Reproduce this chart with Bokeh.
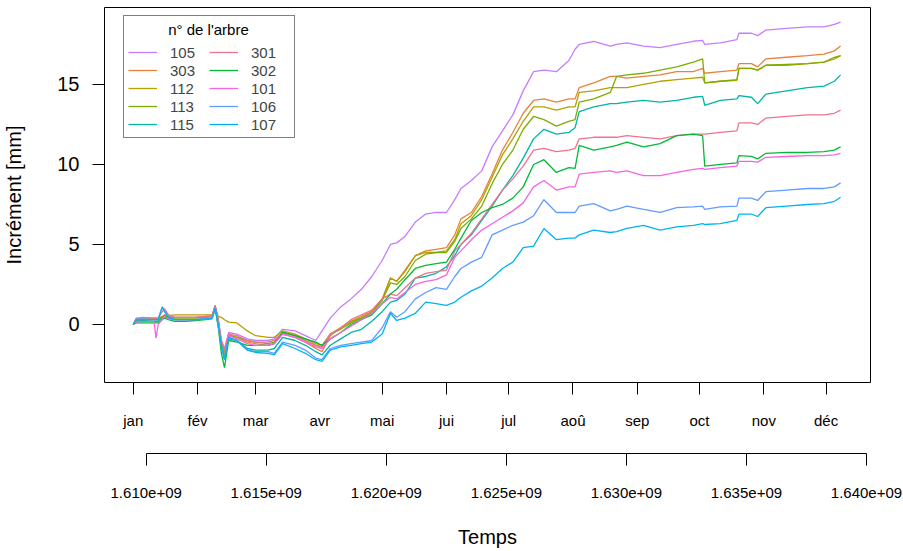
import pandas as pd
from bokeh.plotting import figure
from bokeh.models import Range1d, LinearAxis, FixedTicker, Legend, LegendItem, Label
from bokeh.embed import file_html
from bokeh.resources import INLINE

# ---------------- data ----------------
# day of year 2021 (0 = 1 January)
days = [0, 1.5, 5, 10, 11, 12, 14, 15, 17, 20, 25, 30, 35, 38, 39.5, 41, 42.5, 44, 46, 50,
        55, 59, 65, 68, 72, 78, 83, 88, 91,
        95, 100, 105, 110, 115, 120, 124, 127, 131, 136, 141, 146, 151, 155, 158, 163, 168,
        173, 178, 183, 188, 193, 198, 204, 210, 213, 215, 222, 230, 233, 238, 246, 254, 262,
        270, 274.5, 275.5, 283, 291, 292, 298, 301, 305, 315, 325, 333, 338, 341]

trees = ["105", "303", "112", "113", "115", "301", "302", "101", "106", "107"]
colors = ["#C77CFF", "#E6823C", "#B79F00", "#7CAE00", "#00B5A5",
          "#F0728C", "#00BA38", "#F564E3", "#619CFF", "#00B4F0"]

inc_105 = [0, 0.3, 0.3, 0.35, 0.35, 0.35, 0.5, 0.6, 0.5, 0.45, 0.45, 0.45, 0.5, 0.5, 1.1, 0.2, -1.0, -1.6, -0.5, -0.6,
           -0.9, -1.0, -1.0, -0.9, -0.3, -0.4, -0.7, -1.0, -0.4,
           0.4, 1.1, 1.6, 2.2, 3.0, 4.0, 5.0, 5.1, 5.5, 6.4, 6.9, 7.0, 7.0, 7.8, 8.5, 9.0, 9.6,
           11.1, 12.1, 13.1, 14.6, 15.8, 15.9, 15.8, 16.5, 17.2, 17.5, 17.7, 17.4, 17.5, 17.6, 17.4, 17.3, 17.5,
           17.7, 17.75, 17.5, 17.6, 17.8, 18.2, 18.2, 18.05, 18.4, 18.5, 18.6, 18.6, 18.75, 18.9]
inc_303 = [0, 0.25, 0.3, 0.3, 0.3, 0.3, 0.45, 0.6, 0.5, 0.45, 0.45, 0.45, 0.5, 0.55, 1.2, 0.3, -1.1, -1.7, -0.6, -0.8,
           -1.1, -1.2, -1.3, -1.2, -0.6, -0.8, -1.1, -1.5, -1.7,
           -0.7, -0.2, 0.2, 0.4, 0.8, 1.6, 2.9, 2.7, 3.4, 4.3, 4.6, 4.7, 4.8, 5.6, 6.6, 7.0, 8.0,
           9.4, 10.9, 12.0, 13.2, 14.0, 14.1, 13.9, 14.1, 14.1, 14.8, 15.1, 15.5, 15.5, 15.4, 15.5, 15.6, 15.8,
           15.8, 16.0, 15.7, 15.8, 15.9, 16.3, 16.3, 16.1, 16.6, 16.7, 16.8, 16.9, 17.1, 17.4]
inc_112 = [0, 0.35, 0.4, 0.4, 0.4, 0.4, 0.5, 0.55, 0.55, 0.6, 0.6, 0.6, 0.6, 0.6, 1.0, 0.5, 0.45, 0.3, 0.15, 0.1,
           -0.4, -0.7, -0.8, -0.8, -0.4, -0.6, -0.9, -1.2, -1.3,
           -0.6, -0.2, 0.2, 0.5, 0.8, 1.5, 2.9, 2.7, 3.3, 4.3, 4.5, 4.5, 4.6, 5.3, 6.3, 6.8, 7.8,
           9.2, 10.6, 11.6, 12.7, 13.6, 13.6, 13.4, 13.6, 13.6, 14.5, 14.6, 14.8, 14.8, 14.8, 15.0, 15.2, 15.3,
           15.4, 15.45, 15.1, 15.2, 15.25, 16.0, 16.0, 15.9, 16.2, 16.2, 16.3, 16.4, 16.6, 16.8]
inc_113 = [0, 0.3, 0.3, 0.3, 0.3, 0.3, 0.4, 0.55, 0.45, 0.4, 0.4, 0.4, 0.45, 0.5, 1.1, 0.2, -1.2, -1.9, -0.7, -0.8,
           -1.0, -1.1, -1.2, -1.1, -0.5, -0.7, -1.0, -1.3, -1.4,
           -0.6, -0.3, 0.1, 0.4, 0.7, 1.5, 2.6, 2.5, 3.0, 4.0, 4.4, 4.5, 4.5, 5.2, 6.0, 6.6, 7.4,
           8.8, 10.0, 10.9, 12.2, 13.0, 12.8, 12.4, 12.7, 12.8, 13.9, 14.1, 14.5, 15.5, 15.6, 15.7, 15.9, 16.1,
           16.4, 16.6, 15.1, 15.2, 15.3, 16.0, 16.0, 15.9, 16.2, 16.25, 16.3, 16.4, 16.7, 16.8]
inc_115 = [0, 0.2, 0.25, 0.2, 0.2, 0.2, 0.4, 0.5, 0.4, 0.3, 0.3, 0.3, 0.35, 0.4, 1.0, 0.0, -1.4, -2.2, -0.9, -1.0,
           -1.5, -1.6, -1.6, -1.5, -0.8, -1.0, -1.3, -1.7, -1.9,
           -1.3, -0.9, -0.5, -0.3, 0.2, 0.8, 1.4, 1.5, 1.9, 2.9, 3.0, 3.2, 3.6, 4.3, 5.0, 5.6, 6.5,
           7.4, 8.4, 9.3, 10.4, 11.6, 12.2, 11.9, 12.0, 12.3, 13.3, 13.6, 13.8, 13.8, 13.9, 14.0, 13.9, 14.0,
           14.2, 14.25, 13.7, 14.0, 14.1, 14.3, 14.2, 13.8, 14.4, 14.6, 14.8, 14.9, 15.2, 15.6]
inc_301 = [0, 0.4, 0.45, 0.4, 0.4, 0.4, 0.8, 1.0, 0.6, 0.45, 0.45, 0.45, 0.5, 0.5, 1.2, 0.3, -1.0, -1.5, -0.6, -0.7,
           -1.0, -1.1, -1.1, -1.0, -0.5, -0.7, -1.0, -1.3, -1.4,
           -0.6, -0.2, 0.3, 0.6, 0.9, 1.6, 1.9, 1.8, 2.3, 2.9, 3.2, 3.3, 3.4, 4.6, 5.0, 5.7, 6.6,
           7.5, 8.4, 9.1, 9.9, 10.9, 11.0, 10.8, 10.9, 11.0, 11.6, 11.7, 11.7, 11.7, 11.8, 11.7, 11.6, 11.8,
           11.9, 11.9, 11.9, 12.0, 12.1, 12.6, 12.6, 12.5, 12.9, 13.0, 13.1, 13.1, 13.2, 13.4]
inc_302 = [0, 0.1, 0.1, 0.1, 0.1, 0.1, 0.3, 0.4, 0.3, 0.2, 0.2, 0.25, 0.3, 0.35, 1.0, -0.2, -1.8, -2.7, -1.0, -1.1,
           -1.3, -1.3, -1.3, -1.2, -0.5, -0.7, -0.9, -1.1, -1.3,
           -0.9, -0.5, 0.0, 0.3, 0.6, 1.3, 1.9, 2.2, 2.8, 3.5, 3.7, 3.8, 3.9, 4.7, 5.4, 6.5, 7.0,
           7.3, 7.5, 7.9, 8.6, 10.0, 10.3, 9.5, 9.8, 9.75, 11.2, 10.9, 11.1, 11.2, 11.4, 11.1, 11.3, 11.8,
           11.9, 11.8, 9.9, 10.0, 10.1, 10.55, 10.5, 10.35, 10.7, 10.75, 10.75, 10.8, 10.9, 11.1]
inc_101 = [0, 0.15, 0.2, 0.2, -0.85, 0.0, 0.3, 0.5, 0.35, 0.3, 0.3, 0.3, 0.35, 0.4, 1.0, 0.0, -1.3, -2.0, -0.7, -0.9,
           -1.2, -1.3, -1.3, -1.2, -0.6, -0.8, -1.1, -1.4, -1.5,
           -0.9, -0.5, -0.1, 0.3, 0.7, 1.3, 1.7, 1.6, 2.0, 2.5, 2.7, 2.8, 3.1, 4.2, 4.6, 5.3, 5.9,
           6.3, 6.7, 7.1, 7.6, 8.6, 9.0, 8.4, 8.6, 8.6, 9.4, 9.5, 9.6, 9.5, 9.6, 9.3, 9.3, 9.5,
           9.7, 9.75, 9.7, 9.8, 9.9, 10.2, 10.2, 10.15, 10.45, 10.5, 10.55, 10.55, 10.6, 10.7]
inc_106 = [0, 0.35, 0.35, 0.3, 0.3, 0.3, 1.1, 0.9, 0.5, 0.3, 0.3, 0.3, 0.35, 0.4, 1.1, 0.0, -1.3, -2.1, -0.8, -1.0,
           -1.6, -1.7, -1.7, -1.8, -1.1, -1.3, -1.6, -2.1, -2.2,
           -1.5, -1.3, -1.2, -1.1, -1.0, -0.2, 0.8, 0.45, 0.8, 1.6, 2.0, 2.3, 2.2, 3.0, 3.5, 3.9, 4.2,
           5.6, 5.9, 6.2, 6.4, 6.8, 7.8, 7.0, 7.0, 7.0, 7.4, 7.55, 7.1, 7.2, 7.4, 7.2, 7.0, 7.3,
           7.35, 7.4, 7.2, 7.35, 7.4, 7.9, 7.9, 7.75, 8.3, 8.4, 8.5, 8.5, 8.6, 8.85]
inc_107 = [0, 0.3, 0.3, 0.3, 0.3, 0.3, 1.1, 0.8, 0.45, 0.3, 0.3, 0.3, 0.35, 0.4, 1.0, 0.0, -1.3, -2.2, -0.8, -1.0,
           -1.6, -1.75, -1.8, -1.9, -1.2, -1.5, -1.8, -2.2, -2.3,
           -1.6, -1.4, -1.3, -1.2, -1.1, -0.6, 0.7, 0.25, 0.4, 0.7, 1.4, 1.3, 1.2, 1.4, 1.7, 2.1, 2.4,
           2.9, 3.5, 3.9, 4.8, 4.9, 6.0, 5.3, 5.4, 5.4, 5.6, 5.9, 5.75, 5.8, 6.0, 6.2, 5.9, 6.1,
           6.2, 6.3, 6.25, 6.3, 6.5, 6.9, 6.9, 6.75, 7.3, 7.4, 7.5, 7.55, 7.7, 7.95]

series = [inc_105, inc_303, inc_112, inc_113, inc_115, inc_301, inc_302, inc_101, inc_106, inc_107]

month_labels = ["jan", "fév", "mar", "avr", "mai", "jui", "jul", "aoû", "sep", "oct", "nov", "déc"]
num_ticks = [1610000000, 1615000000, 1620000000, 1625000000, 1630000000, 1635000000, 1640000000]
num_labels = ["1.610e+09", "1.615e+09", "1.620e+09", "1.625e+09", "1.630e+09", "1.635e+09", "1.640e+09"]
y_ticks = [0, 5, 10, 15]
legend_title = "n° de l'arbre"

# ---------------- derived ----------------
t0 = pd.Timestamp("2021-01-01").timestamp()
xs = [t0 + d * 86400 for d in days]
month_ticks = [int(pd.Timestamp(f"2021-{m:02d}-01").timestamp()) for m in range(1, 13)]

FONT = "Liberation Sans"

p = figure(width=903, height=551, output_backend="svg", toolbar_location=None,
           x_range=Range1d(1.608263e9, 1.640167e9), y_range=Range1d(-3.625, 19.81),
           x_axis_location=None,
           min_border_left=104, min_border_right=33, min_border_top=7, min_border_bottom=169)
p.background_fill_color = "white"
p.border_fill_color = "white"
p.outline_line_color = "black"
p.outline_line_width = 1
p.xgrid.visible = False
p.ygrid.visible = False

# y axis
ya = p.yaxis[0]
ya.ticker = FixedTicker(ticks=y_ticks)
ya.axis_line_color = None
ya.major_tick_out = 12
ya.major_tick_in = 0
ya.minor_tick_line_color = None
ya.major_tick_line_color = "black"
ya.major_label_standoff = 13
ya.major_label_text_font = FONT
ya.major_label_text_font_size = "20px"
ya.major_label_text_color = "black"
ya.axis_label = "Incrément [mm]"
ya.axis_label_text_font = FONT
ya.axis_label_text_font_size = "20px"
ya.axis_label_text_font_style = "normal"
ya.axis_label_text_color = "black"
ya.axis_label_standoff = 29

# month axis
ma = LinearAxis(ticker=FixedTicker(ticks=month_ticks),
                major_label_overrides={t: l for t, l in zip(month_ticks, month_labels)})
ma.axis_line_color = None
ma.major_tick_out = 12
ma.major_tick_in = 0
ma.minor_tick_line_color = None
ma.major_label_standoff = 17
ma.major_label_text_font = FONT
ma.major_label_text_font_size = "15px"
ma.major_label_text_color = "black"
ma.axis_label = " "
ma.axis_label_text_font_size = "12px"
ma.axis_label_standoff = 5
p.add_layout(ma, "below")

# numeric time axis
na = LinearAxis(ticker=FixedTicker(ticks=num_ticks), bounds=(num_ticks[0], num_ticks[-1]),
                major_label_overrides={t: l for t, l in zip(num_ticks, num_labels)})
na.axis_line_color = "black"
na.major_tick_out = 12
na.major_tick_in = 0
na.minor_tick_line_color = None
na.major_label_standoff = 22
na.major_label_text_font = FONT
na.major_label_text_font_size = "15px"
na.major_label_text_color = "black"
na.axis_label = "Temps"
na.axis_label_text_font = FONT
na.axis_label_text_font_size = "20px"
na.axis_label_text_font_style = "normal"
na.axis_label_text_color = "black"
na.axis_label_standoff = 25
p.add_layout(na, "below")

renderers = {}
for name, col, vals in zip(trees, colors, series):
    renderers[name] = p.line(xs, vals, line_color=col, line_width=1.3)

legend = Legend(items=[LegendItem(label=n, renderers=[renderers[n]]) for n in trees],
                ncols=2, title=" ", location=(19, 244))
legend.title_text_font = FONT
legend.title_text_font_size = "15px"
legend.title_text_font_style = "normal"
legend.label_text_font = FONT
legend.label_text_font_size = "15px"
legend.border_line_color = "black"
legend.border_line_width = 1
legend.background_fill_alpha = 0
legend.padding = 4
legend.margin = 0
legend.spacing = 0
legend.label_height = 18
legend.glyph_height = 18
legend.glyph_width = 29
legend.label_width = 39
legend.label_standoff = 13
legend.title_standoff = 6
p.add_layout(legend)

# legend title, centred over the legend box
title_lbl = Label(x=104, y=353, x_units="screen", y_units="screen", text=legend_title,
                  text_align="center", text_baseline="middle", level="overlay",
                  text_font=FONT, text_font_size="15px", text_color="black")
p.add_layout(title_lbl)

open("out.html", "w").write(file_html(p, INLINE))
